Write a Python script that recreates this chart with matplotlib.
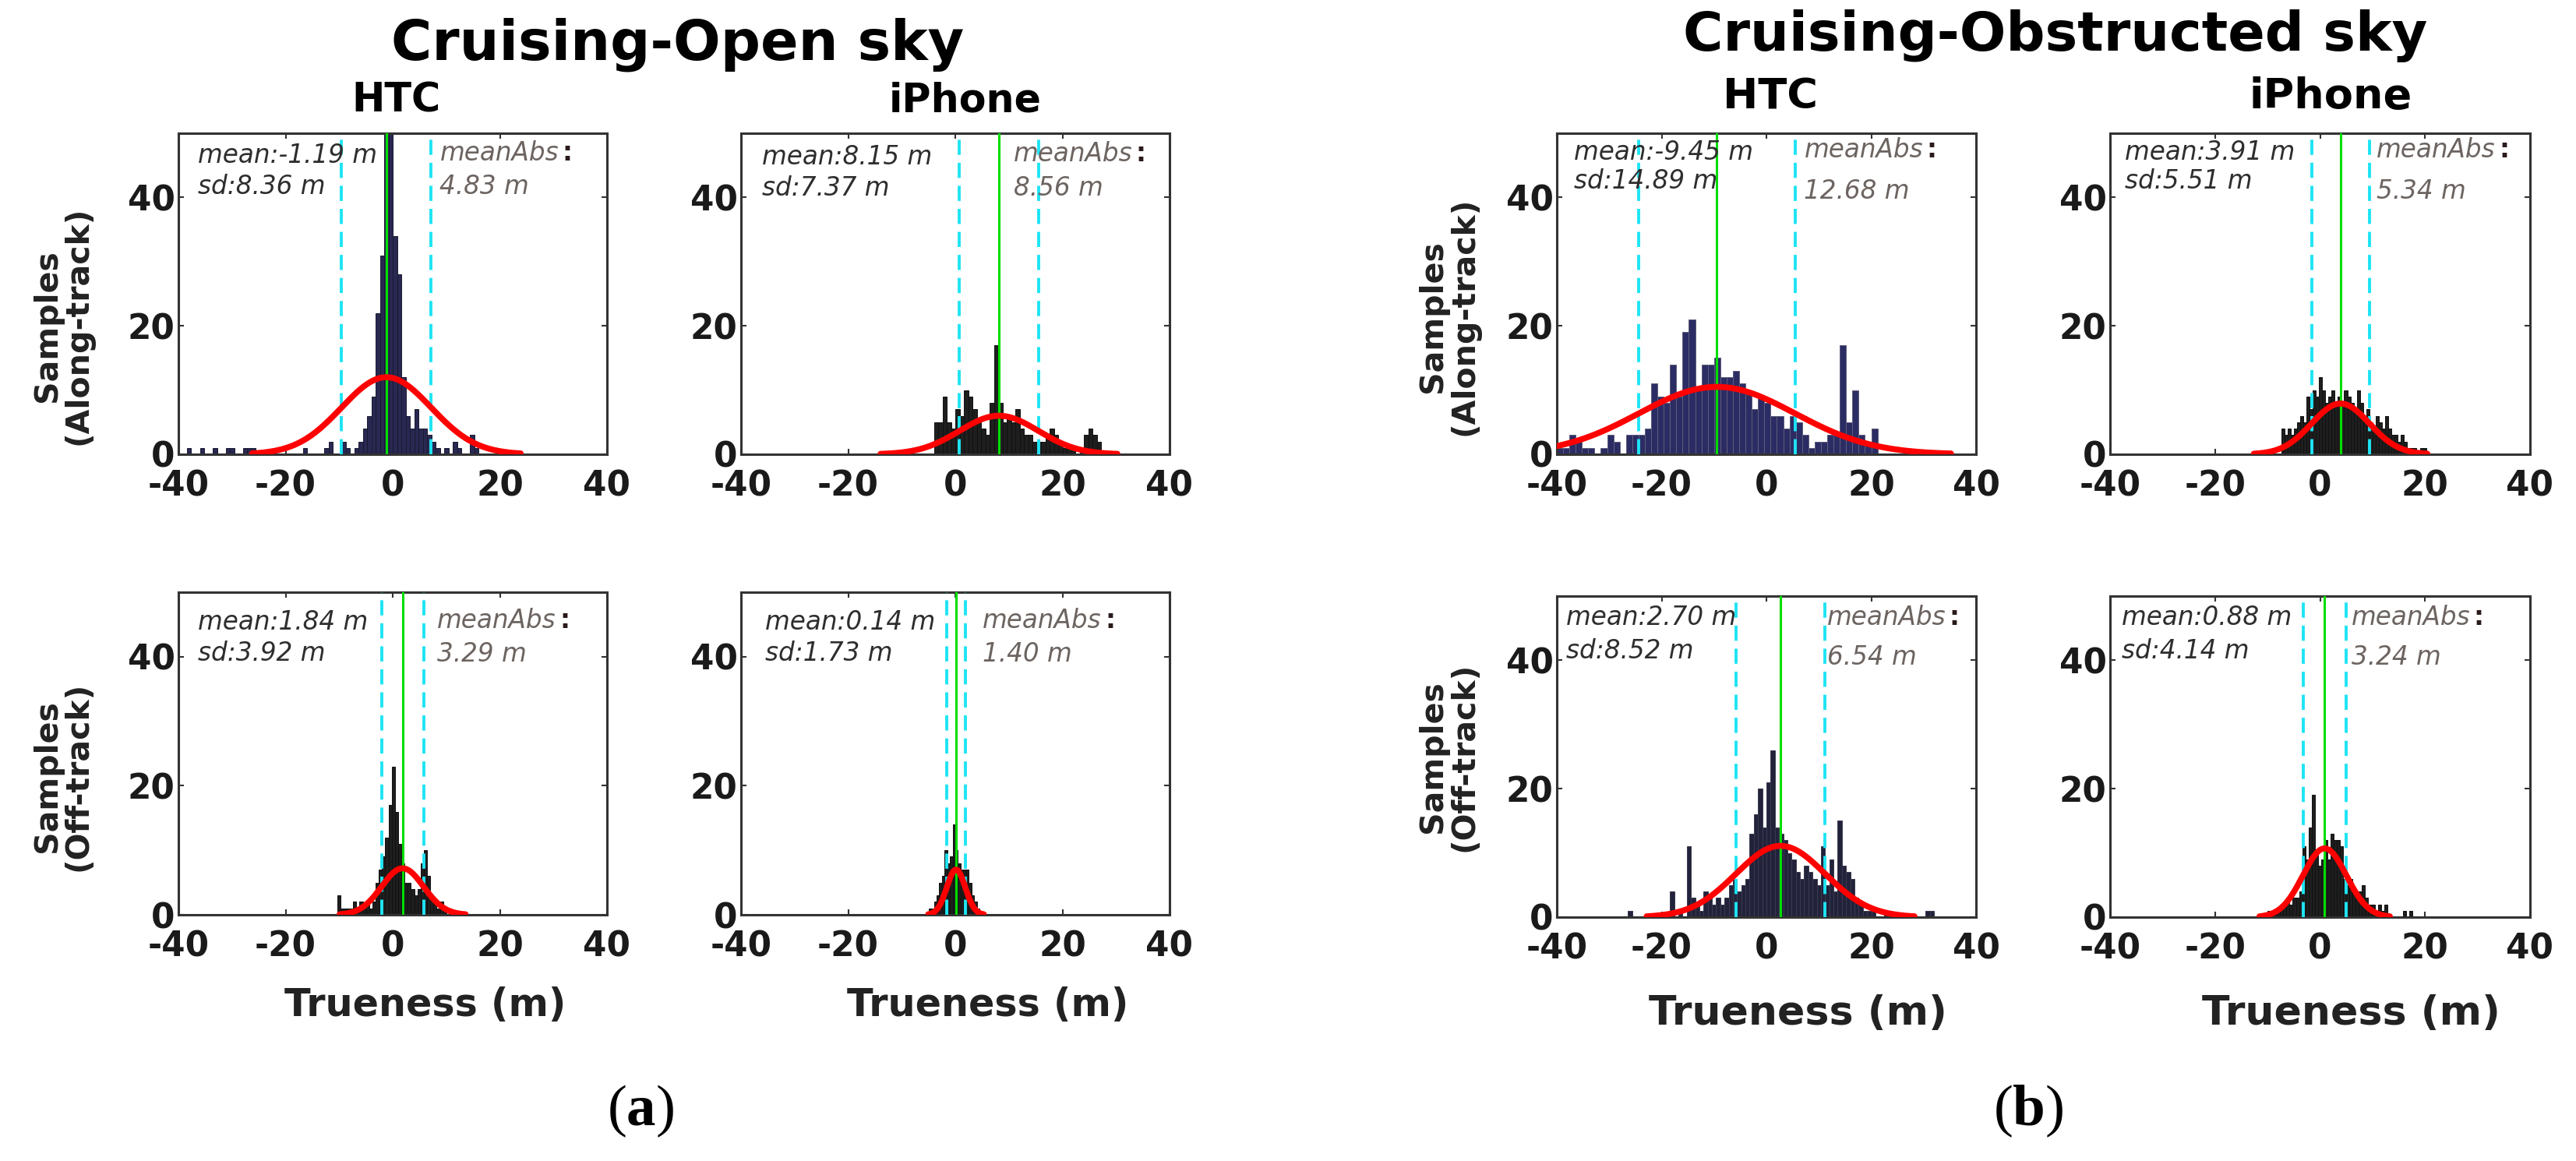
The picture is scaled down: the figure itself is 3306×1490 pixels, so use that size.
"""Trueness histograms, cruising open vs obstructed sky (HTC / iPhone)."""

import numpy as np
import matplotlib
matplotlib.use('Agg')
import matplotlib.pyplot as plt

plt.rcParams['mathtext.fontset'] = 'custom'
plt.rcParams['mathtext.rm'] = 'Liberation Serif'
plt.rcParams['mathtext.bf'] = 'Liberation Serif:bold'

X_TICKS = [-40, -20, 0, 20, 40]
Y_TICKS = [0, 20, 40]
Y_MAX = 50

# --- histogram data: first bin edge, bin width, counts -------------------
open_htc_along_edge0 = -38.4
open_htc_along_binw = 0.8
open_htc_along_counts = [1, 0, 0, 1, 0, 0, 1, 0, 0, 1, 1, 0, 0, 1, 1, 1, 0,
                         0, 0, 0, 0, 0, 0, 0, 0, 0, 0, 1, 0, 0, 0, 0,
                         1, 2, 0, 0, 2, 1, 0, 1, 2, 4, 6, 9, 22, 31, 55, 55,
                         34, 28, 12, 6, 4, 7, 4, 4, 3, 2, 1, 0, 1, 0, 2, 1,
                         0, 0, 3, 1]

open_iphone_along_edge0 = -4.0
open_iphone_along_binw = 0.8
open_iphone_along_counts = [5, 5, 9, 5, 4, 7, 6, 10, 9, 7, 5, 4, 3, 8, 17, 8,
                            5, 6, 5, 7, 4, 3, 3, 2, 2, 2, 3, 4, 3, 2, 1, 1,
                            1, 0, 1, 3, 4, 3, 2]

obs_htc_along_edge0 = -40.0
obs_htc_along_binw = 1.2
obs_htc_along_counts = [1, 1, 3, 2, 1, 1, 0, 1, 3, 2, 0, 3, 3, 3, 4, 11, 9,
                        8, 14, 9, 19, 21, 10, 14, 14, 15, 12, 12, 13, 11, 10,
                        7, 9, 8, 6, 6, 4, 6, 5, 3, 1, 2, 2, 3, 3, 17, 5, 10,
                        3, 2, 4]

obs_iphone_along_edge0 = -7.4
obs_iphone_along_binw = 0.6
obs_iphone_along_counts = [4, 3, 4, 3, 4, 5, 6, 5, 9, 7, 10, 9, 12, 10, 8, 9,
                           10, 8, 9, 8, 10, 9, 8, 7, 10, 8, 6, 7, 5, 4, 6, 5,
                           4, 6, 4, 3, 3, 2, 3, 2, 1, 1, 1, 0, 1, 1]

open_htc_off_edge0 = -10.4
open_htc_off_binw = 0.6
open_htc_off_counts = [3, 1, 1, 1, 1, 2, 1, 2, 1, 2, 1, 2, 5, 7, 9, 12, 17,
                       23, 16, 11, 8, 5, 5, 4, 3, 4, 8, 10, 6, 3, 2, 1, 2, 1]

open_iphone_off_edge0 = -5.0
open_iphone_off_binw = 0.5
open_iphone_off_counts = [1, 1, 2, 3, 5, 6, 10, 8, 9, 14, 10, 8, 7, 7, 7, 5,
                          3, 2, 1]

obs_htc_off_edge0 = -26.4
obs_htc_off_binw = 0.8
obs_htc_off_counts = [1, 0, 0, 0, 0, 0, 0, 0, 0, 0, 4, 0, 1, 0, 11, 3, 2, 1,
                      4, 3, 2, 3, 2, 3, 5, 6, 4, 5, 6, 13, 16, 20, 14, 21, 26,
                      14, 13, 12, 10, 9, 7, 6, 8, 7, 6, 5, 11, 5, 9, 4, 15, 8,
                      7, 6, 3, 2, 1, 1, 1, 0, 0, 1, 1, 0, 0, 0, 0, 0, 0, 0,
                      0, 1, 1]

obs_iphone_off_edge0 = -10.0
obs_iphone_off_binw = 0.6
obs_iphone_off_counts = [1, 1, 1, 1, 2, 2, 3, 2, 3, 3, 4, 11, 9, 14, 19, 10,
                         8, 9, 12, 9, 13, 12, 12, 11, 6, 5, 6, 4, 3, 4, 5, 3,
                         2, 2, 1, 2, 1, 2, 0, 0, 0, 0, 0, 1, 0, 1]

# --- statistics shown in each panel: mean, sd, meanAbs, peak of the fit ---
panel_means = [-1.19, 8.15, 1.84, 0.14, -9.45, 3.91, 2.70, 0.88]
panel_sds = [8.36, 7.37, 3.92, 1.73, 14.89, 5.51, 8.52, 4.14]
panel_mean_abs = [4.83, 8.56, 3.29, 1.40, 12.68, 5.34, 6.54, 3.24]
panel_fit_peaks = [12.0, 6.0, 7.2, 7.0, 10.5, 7.9, 11.1, 10.7]

panel_hists = [
    (open_htc_along_edge0, open_htc_along_binw, open_htc_along_counts),
    (open_iphone_along_edge0, open_iphone_along_binw, open_iphone_along_counts),
    (open_htc_off_edge0, open_htc_off_binw, open_htc_off_counts),
    (open_iphone_off_edge0, open_iphone_off_binw, open_iphone_off_counts),
    (obs_htc_along_edge0, obs_htc_along_binw, obs_htc_along_counts),
    (obs_iphone_along_edge0, obs_iphone_along_binw, obs_iphone_along_counts),
    (obs_htc_off_edge0, obs_htc_off_binw, obs_htc_off_counts),
    (obs_iphone_off_edge0, obs_iphone_off_binw, obs_iphone_off_counts),
]

# --- layout (pixels of a 3306x1490 canvas) -------------------------------
W, H = 3306, 1490
# left, right, top, bottom
boxes = [
    (229, 779, 171, 583), (951, 1501, 171, 583),
    (229, 779, 760, 1174), (951, 1501, 760, 1174),
    (1998, 2536, 171, 583), (2708, 3247, 171, 583),
    (1998, 2536, 765, 1177), (2708, 3247, 765, 1177),
]
bar_colors = ['#282852', '#1e1e1e', '#1e1e1e', '#1e1e1e',
              '#2c2c64', '#1e1e1e', '#22223a', '#1e1e1e']
bar_edges = ['#1a1a30', '#111111', '#111111', '#111111',
             '#5e5e7c', '#111111', '#3a3a50', '#111111']
# x (axes fraction) of the left text block and of the meanAbs block
text_x = [0.045, 0.05, 0.045, 0.056, 0.04, 0.035, 0.022, 0.028]
abs_x = [0.61, 0.636, 0.604, 0.564, 0.59, 0.635, 0.645, 0.575]
# y of the two text rows (axes fraction): mean / sd, meanAbs / value
text_y = [(0.93, 0.833, 0.937, 0.833), (0.925, 0.83, 0.935, 0.83),
          (0.908, 0.81, 0.913, 0.807), (0.908, 0.81, 0.913, 0.807),
          (0.94, 0.85, 0.947, 0.82), (0.94, 0.85, 0.947, 0.82),
          (0.934, 0.83, 0.934, 0.81), (0.934, 0.83, 0.934, 0.81)]
ylabels = ['Samples\n(Along-track)', None, 'Samples\n(Off-track)', None,
           'Samples\n(Along-track)', None, 'Samples\n(Off-track)', None]
ylabel_pos = [(-0.27, 0.40), None, (-0.27, 0.43), None,
              (-0.258, 0.43), None, (-0.258, 0.50), None]
xlabel_pos = {2: (-0.28, 35.5), 3: (-0.28, 35.5),
              6: (-0.30, 37.5), 7: (-0.30, 37.5)}

TEXT_DARK = '#2e2e2e'
TEXT_ABS = '#6c6460'
NOTE_SIZE = 23.5

fig = plt.figure(figsize=(W / 100, H / 100), dpi=100)

for i in range(8):
    l, r, t, b = boxes[i]
    ax = fig.add_axes([l / W, 1 - b / H, (r - l) / W, (b - t) / H])
    edge0, binw, counts = panel_hists[i]
    counts = np.array(counts)
    centers = edge0 + binw * (np.arange(len(counts)) + 0.5)
    ax.bar(centers, counts, width=binw, color=bar_colors[i],
           edgecolor=bar_edges[i], linewidth=0.7, zorder=2)

    mu, sd = panel_means[i], panel_sds[i]
    for xv in (mu - sd, mu + sd):
        ax.axvline(xv, color='#1ee4f4', linewidth=2.8,
                   linestyle=(0, (5, 2.6)), zorder=3)
    ax.axvline(mu, color='#00dd00', linewidth=2.2, zorder=4)

    xs = np.linspace(mu - 3 * sd, mu + 3 * sd, 300)
    ys = panel_fit_peaks[i] * np.exp(-0.5 * ((xs - mu) / sd) ** 2)
    ax.plot(xs, ys, color='#ff0000', linewidth=5.5, zorder=5,
            solid_capstyle='round')

    ax.set_xlim(-40, 40)
    ax.set_ylim(0, Y_MAX)
    ax.set_xticks(X_TICKS)
    ax.set_yticks(Y_TICKS)
    ax.set_xticklabels([str(v) for v in X_TICKS], fontsize=31.5,
                       fontweight='bold', color='#1a1a1a')
    ax.set_yticklabels([str(v) for v in Y_TICKS], fontsize=31.5,
                       fontweight='bold', color='#1a1a1a')
    ax.tick_params(direction='in', top=True, right=True, length=5,
                   width=1.5, color='#333333')
    ax.tick_params(axis='x', pad=14)
    ax.tick_params(axis='y', pad=3)
    for sp in ax.spines.values():
        sp.set_linewidth(2.2)
        sp.set_color('#333333')

    ty = text_y[i]
    ax.text(text_x[i], ty[0], f'mean:{mu:.2f} m', transform=ax.transAxes,
            fontsize=NOTE_SIZE, style='italic', color=TEXT_DARK,
            va='center', ha='left', zorder=6)
    ax.text(text_x[i], ty[1], f'sd:{sd:.2f} m', transform=ax.transAxes,
            fontsize=NOTE_SIZE, style='italic', color=TEXT_DARK,
            va='center', ha='left', zorder=6)
    t_abs = ax.text(abs_x[i], ty[2], 'meanAbs', transform=ax.transAxes,
                    fontsize=NOTE_SIZE, style='italic', color=TEXT_ABS,
                    va='center', ha='left', zorder=6)
    ax.annotate(':', xy=(1, 0.5), xycoords=t_abs, xytext=(3, 0),
                textcoords='offset points', fontsize=NOTE_SIZE,
                fontweight='bold', color='#2a1a1a', va='center',
                ha='left', zorder=6)
    ax.text(abs_x[i], ty[3], f'{panel_mean_abs[i]:.2f} m',
            transform=ax.transAxes, fontsize=NOTE_SIZE, style='italic',
            color=TEXT_ABS, va='center', ha='left', zorder=6)

    if ylabels[i]:
        px, py = ylabel_pos[i]
        ax.text(px, py, ylabels[i], transform=ax.transAxes, rotation=90,
                fontsize=29.5, fontweight='bold', color='#222222',
                ha='center', va='center', multialignment='center',
                linespacing=1.0)
    if i in xlabel_pos:
        ly, lsize = xlabel_pos[i]
        ax.text(0.575, ly, 'Trueness (m)', transform=ax.transAxes,
                fontsize=lsize, fontweight='bold', color='#222222',
                ha='center', va='center')

# titles
fig.text(870 / W, 1 - 57 / H, 'Cruising-Open sky', fontsize=51.5,
         fontweight='bold', ha='center', va='center')
fig.text(2638 / W, 1 - 46 / H, 'Cruising-Obstructed sky', fontsize=50.5,
         fontweight='bold', ha='center', va='center')
for x, y, s, size in [(509, 130, 'HTC', 36.5), (1239, 130, 'iPhone', 36.5),
                      (2272, 124, 'HTC', 39), (2991, 124, 'iPhone', 39)]:
    fig.text(x / W, 1 - y / H, s, fontsize=size, fontweight='bold',
             ha='center', va='center')

fig.text(822 / W, 1 - 1426 / H, r'($\mathbf{a}$)', fontsize=54,
         family='Liberation Serif', ha='center', va='center')
fig.text(2603 / W, 1 - 1426 / H, r'($\mathbf{b}$)', fontsize=54,
         family='Liberation Serif', ha='center', va='center')

fig.savefig('out.png', dpi=100, facecolor='white')
plt.close(fig)
